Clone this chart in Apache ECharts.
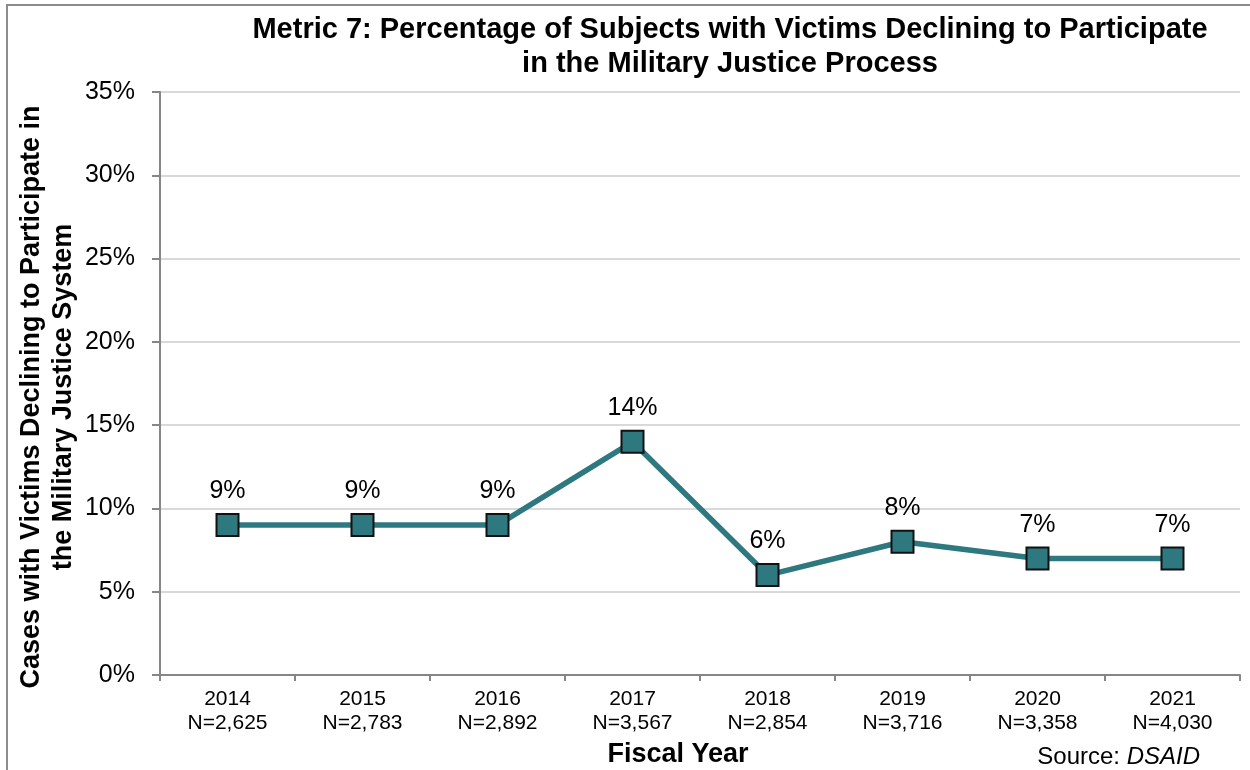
<!DOCTYPE html>
<html>
<head>
<meta charset="utf-8">
<script src="https://cdn.jsdelivr.net/npm/echarts@6/dist/echarts.min.js"></script>
<style>html,body{margin:0;padding:0;background:#fff}#c{width:1250px;height:770px}</style>
</head>
<body>
<div id="c"></div>
<script>
const years = ['2014','2015','2016','2017','2018','2019','2020','2021'];
const ns = ['2,625','2,783','2,892','3,567','2,854','3,716','3,358','4,030'];
const pct = [9, 9, 9, 14, 6, 8, 7, 7];
const yTicks = {min: 0, max: 35, interval: 5};

const F = '"Liberation Sans", Arial, sans-serif';
const chart = echarts.init(document.getElementById('c'));
chart.setOption({
  animation: false,
  backgroundColor: '#fff',
  grid: {left: 160, right: 10, top: 92, bottom: 95},
  xAxis: {
    type: 'category',
    data: years.map((y, i) => y + '\nN=' + ns[i]),
    boundaryGap: true,
    axisLine: {lineStyle: {color: '#868686', width: 2}},
    axisTick: {show: true, length: 6, lineStyle: {color: '#868686', width: 2}},
    axisLabel: {color: '#000', fontFamily: F, fontSize: 21, lineHeight: 24, margin: 12}
  },
  yAxis: {
    type: 'value',
    min: yTicks.min, max: yTicks.max, interval: yTicks.interval,
    axisLine: {show: true, lineStyle: {color: '#868686', width: 2}},
    axisTick: {show: true, length: 8, lineStyle: {color: '#868686', width: 2}},
    splitLine: {lineStyle: {color: '#d9d9d9', width: 2}},
    axisLabel: {color: '#000', fontFamily: F, fontSize: 25, margin: 25, formatter: '{value}%'}
  },
  series: [{
    type: 'line',
    data: pct,
    symbol: 'rect',
    symbolSize: 22,
    lineStyle: {color: '#2E7880', width: 5.5},
    itemStyle: {color: '#2E7880', borderColor: '#111', borderWidth: 2},
    label: {show: true, position: 'top', distance: 9, color: '#000', fontFamily: F, fontSize: 25, formatter: '{c}%'}
  }],
  graphic: [
    {type: 'rect', shape: {x: 7, y: 5, width: 1260, height: 780}, style: {fill: 'none', stroke: '#8c8c8c', lineWidth: 2}, silent: true},
    {type: 'text', x: 730, y: 30, style: {text: 'Metric 7: Percentage of Subjects with Victims Declining to Participate', font: 'bold 29px ' + F, fill: '#000', textAlign: 'center', textVerticalAlign: 'middle'}},
    {type: 'text', x: 730, y: 64, style: {text: 'in the Military Justice Process', font: 'bold 29px ' + F, fill: '#000', textAlign: 'center', textVerticalAlign: 'middle'}},
    {type: 'text', x: 48, y: 397, rotation: Math.PI / 2, style: {text: 'Cases with Victims Declining to Participate in\nthe Military Justice System', font: 'bold 27px ' + F, lineHeight: 32, fill: '#000', textAlign: 'center', textVerticalAlign: 'middle'}},
    {type: 'text', x: 678, y: 755, style: {text: 'Fiscal Year', font: 'bold 27px ' + F, fill: '#000', textAlign: 'center', textVerticalAlign: 'middle'}},
    {type: 'text', x: 1200, y: 757, style: {text: 'Source: {i|DSAID}', rich: {i: {fontStyle: 'italic', fontFamily: F, fontSize: 24, fill: '#000'}}, font: '24px ' + F, fill: '#000', textAlign: 'right', textVerticalAlign: 'middle'}}
  ]
});
</script>
</body>
</html>
